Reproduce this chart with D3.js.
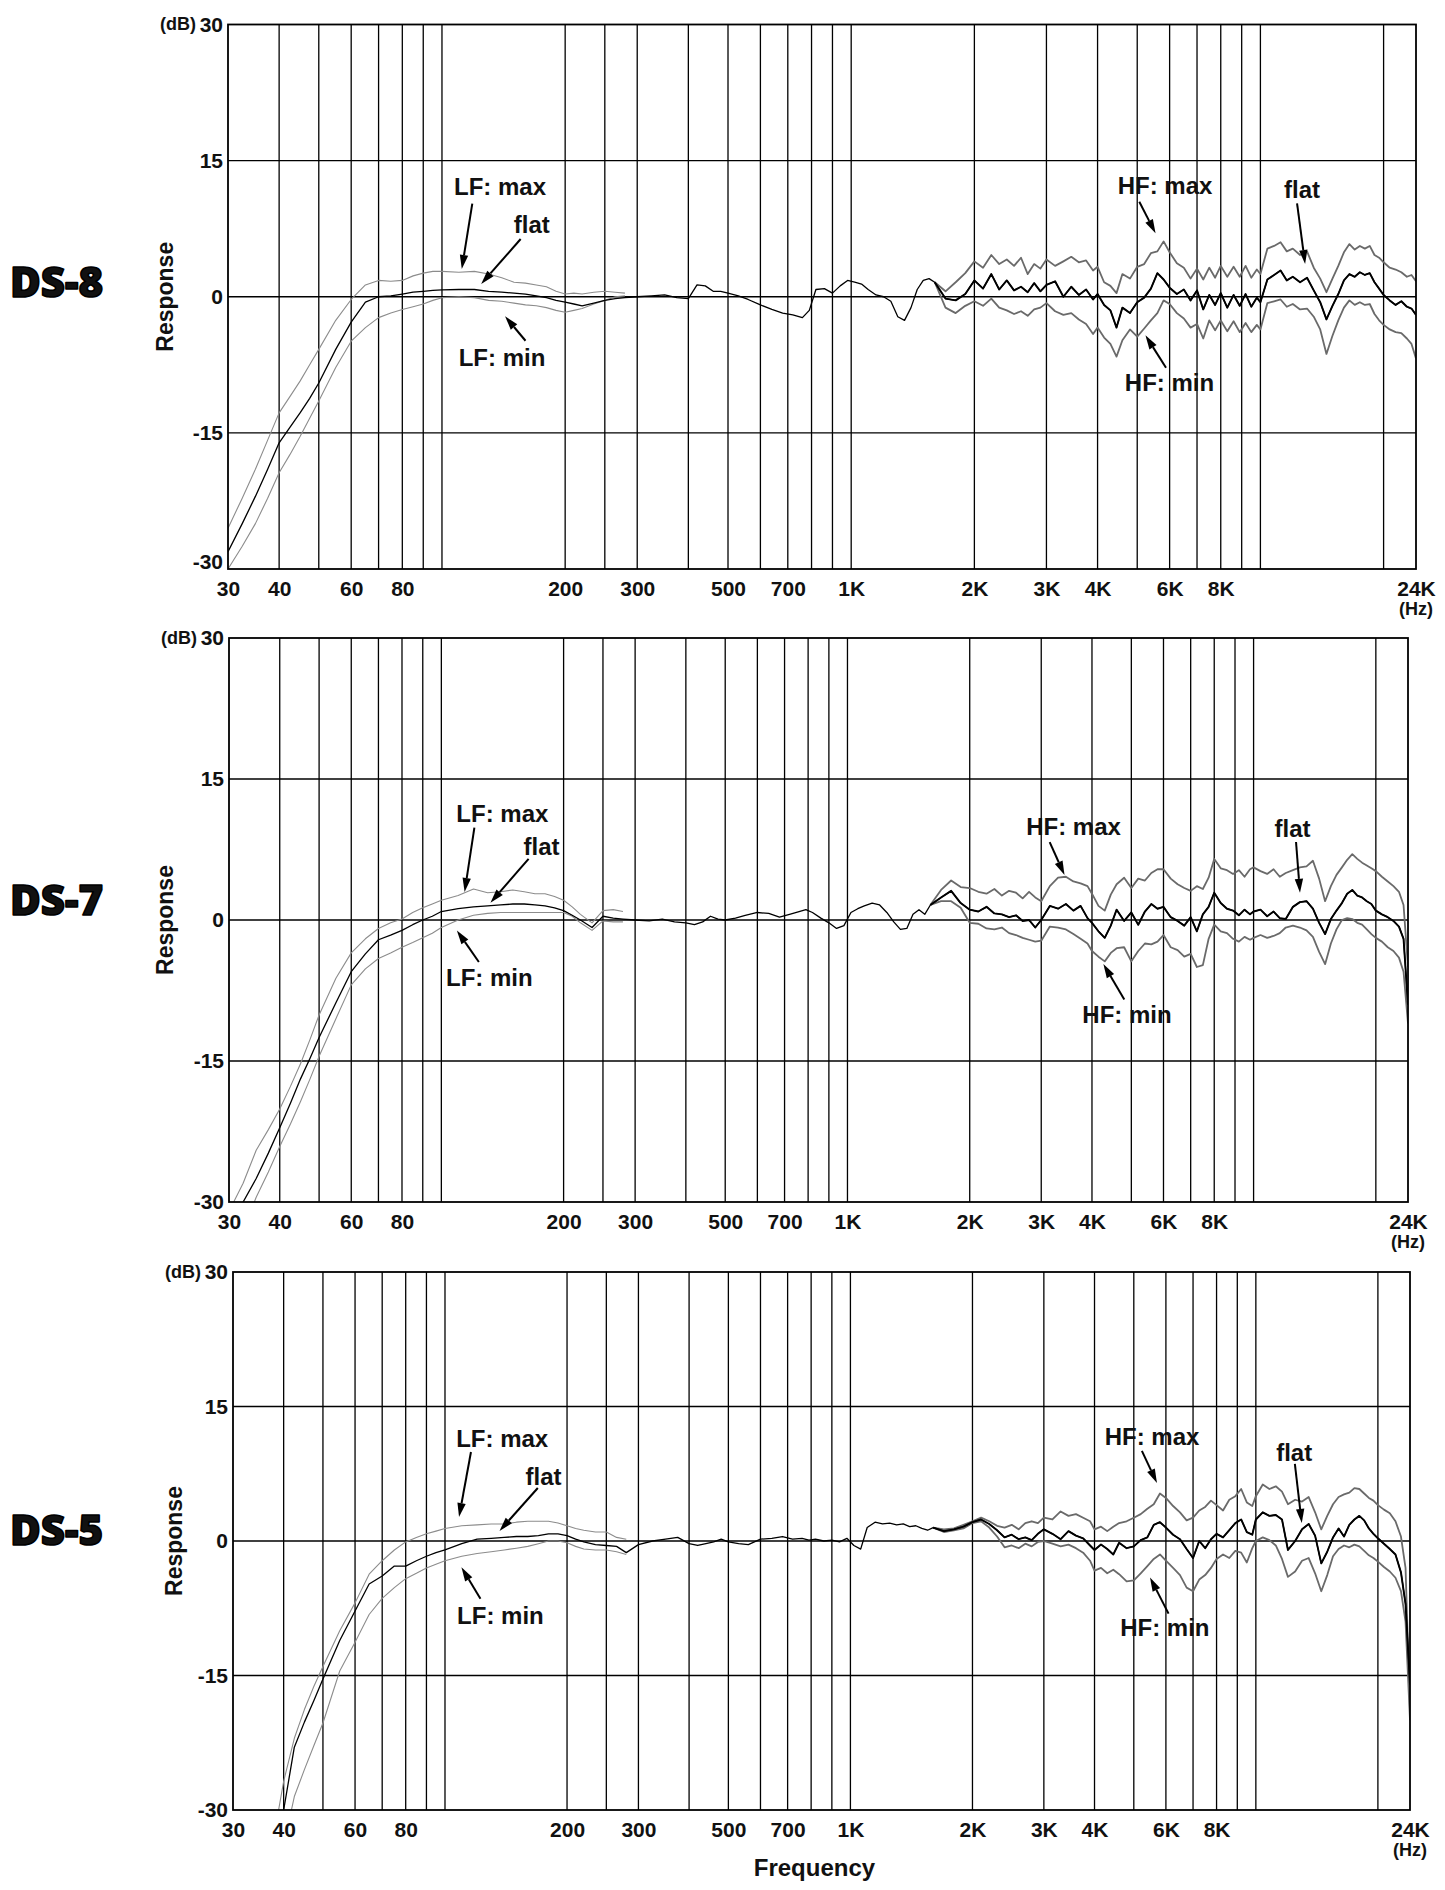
<!DOCTYPE html>
<html><head><meta charset="utf-8">
<script src="https://cdn.jsdelivr.net/npm/d3@7"></script>
<style>
body{margin:0;background:#fff}
svg text{font-family:"Liberation Sans",Arial,Helvetica,sans-serif;font-weight:bold;fill:#111}
</style>
</head><body><svg id="chart" width="1445" height="1890"></svg>
<script>
// ---------- shared axis data ----------
const models = ["DS-8", "DS-7", "DS-5"];
const yTicks = [30, 15, 0, -15, -30];
const yTickLabels = ["30", "15", "0", "-15", "-30"];
const gridFreqs = [40,50,60,70,80,90,100,200,250,300,400,500,600,700,800,900,1000,2000,3000,4000,5000,6000,7000,8000,9000,10000,20000];
const tickFreqs = [30,40,60,80,200,300,500,700,1000,2000,3000,4000,6000,8000,24000];
const tickLabels = ["30","40","60","80","200","300","500","700","1K","2K","3K","4K","6K","8K","24K"];

// ---------- frequency grids (Hz) ----------
const lfFreq = [30,32.5,35,37.5,40,42.5,45,47.5,50,55,60,65,70,75,80,85,90,95,100,110,120,130,140,150,160,170,180,190,200,210,220,235,250,265,280];
const midFreq = [300,325,350,375,400,420,440,460,480,500,530,560,600,640,680,720,760,790,820,860,900,940,980,1020,1060,1100,1150,1200,1250,1300,1350,1400,1450,1500,1550];
const hfFreq = [1600,1700,1800,1900,2000,2100,2200,2300,2400,2500,
  2600,2700,2800,2900,3000,3150,3300,3450,3600,3750,
  3900,4000,4150,4300,4450,4600,4800,5000,5200,5400,
  5600,5800,6000,6250,6500,6750,7000,7250,7500,7750,
  8000,8300,8600,8900,9200,9500,9800,10000,10400,10800,
  11200,11600,12000,12500,13000,13500,14000,14500,15000,15500,
  16000,16500,17000,17500,18000,18500,19000,19500,20000,20700,
  21400,22100,22800,23400,24000];

// ---------- DS-8 (dB) ----------
const ds8LfMax = [-25.5,-22.2,-19.0,-15.8,-12.8,-11.0,-9.3,-7.5,-5.8,-2.6,-0.3,1.3,1.8,1.7,1.8,2.3,2.6,2.8,2.8,2.7,2.8,2.5,2.1,1.6,1.5,1.3,1.1,0.6,0.3,0.4,0.3,0.5,0.6,0.5,0.4];
const ds8LfFlat = [-28.1,-25.0,-22.0,-19.0,-16.1,-14.4,-12.8,-11.2,-9.5,-5.8,-2.8,-0.6,0.0,0.1,0.3,0.5,0.6,0.7,0.75,0.8,0.8,0.6,0.5,0.4,0.3,0.1,-0.1,-0.4,-0.6,-0.8,-1.0,-0.7,-0.4,-0.2,-0.1];
const ds8LfMin = [-30,-27.5,-25.0,-22.2,-19.4,-17.4,-15.4,-13.4,-11.5,-7.8,-4.9,-3.4,-2.3,-1.8,-1.4,-1.1,-0.8,-0.4,-0.1,0.0,-0.1,-0.4,-0.5,-0.7,-0.9,-1.0,-1.2,-1.5,-1.7,-1.5,-1.3,-0.8,-0.4,0.0,0.1];
const ds8MidFlat = [0.0,0.1,0.2,-0.1,-0.2,1.3,1.2,0.6,0.6,0.4,0.1,-0.3,-0.9,-1.4,-1.8,-2.0,-2.3,-1.5,0.8,0.9,0.4,1.2,1.8,1.6,1.4,0.8,0.2,0.0,-0.5,-2.2,-2.6,-1.2,0.8,1.8,2.0];
const ds8HfFlat = [1.6,-0.2,-0.4,0.3,1.8,0.9,2.5,0.8,1.8,0.7,
  1.1,0.5,1.5,0.6,1.3,1.7,0.0,1.1,0.2,0.8,
  -0.3,0.3,-0.9,-1.5,-3.4,-1.2,-1.8,-0.6,-0.1,0.9,
  2.6,1.9,1.0,0.3,0.8,-0.4,0.7,-1.4,0.2,-0.9,
  0.4,-1.2,0.2,-1.0,0.3,-1.1,-0.1,-0.6,1.9,2.4,
  2.9,1.8,2.2,1.6,2.1,0.7,-0.6,-2.5,-1.0,0.3,
  1.8,2.5,2.2,2.7,2.4,2.6,1.6,0.9,0.2,-0.4,
  -0.9,-0.5,-1.1,-1.3,-2.0];
const ds8HfMax = [1.6,0.6,1.6,2.6,3.9,3.2,4.6,3.6,4.1,3.4,
  4.3,2.5,3.6,3.1,4.1,3.4,3.9,4.4,3.8,4.0,
  2.9,3.3,1.6,1.2,0.4,2.5,2.0,3.3,3.6,4.8,
  5.0,6.1,4.9,3.7,3.2,2.0,3.1,1.9,3.2,2.1,
  3.4,2.2,3.3,2.2,3.4,2.1,3.0,2.5,5.3,5.6,
  6.0,5.0,5.3,4.6,5.0,3.2,2.0,0.5,2.0,3.4,
  4.9,5.8,5.2,5.6,5.3,5.6,4.6,4.3,3.8,3.2,
  3.0,2.7,2.2,2.4,1.7];
const ds8HfMin = [1.6,-1.2,-1.8,-1.0,-0.5,-1.0,-0.2,-1.2,-1.5,-1.9,
  -1.6,-2.1,-1.4,-1.2,-0.7,-1.6,-2.0,-1.8,-2.5,-3.0,
  -4.1,-3.4,-4.5,-5.2,-6.6,-4.8,-3.6,-4.4,-3.5,-2.6,
  -1.8,-0.4,-0.8,-1.8,-2.4,-3.4,-3.0,-4.6,-2.6,-3.7,
  -2.6,-3.8,-2.7,-3.9,-2.9,-3.9,-3.1,-3.6,-0.7,-0.5,
  -0.3,-1.1,-0.8,-1.4,-1.3,-2.2,-3.6,-6.3,-4.3,-2.6,
  -1.2,-0.4,-0.9,-0.6,-0.9,-0.8,-1.9,-2.6,-3.1,-3.6,
  -3.9,-4.0,-4.6,-5.2,-6.8];

// ---------- DS-7 (dB) ----------
const ds7LfMax = [-31,-28.0,-24.5,-22.3,-20.1,-17.7,-15.3,-12.7,-10.1,-6.2,-3.5,-2.0,-0.9,-0.3,0.1,0.8,1.3,1.7,2.1,2.6,3.3,2.9,3.0,3.2,3.0,2.8,2.8,2.5,2.1,1.4,0.6,-0.3,1.0,1.1,0.9];
const ds7LfFlat = [-34,-30,-27.5,-24.8,-22.1,-19.5,-16.9,-14.7,-12.5,-8.8,-5.5,-3.6,-2.1,-1.6,-1.1,-0.5,0.0,0.4,0.9,1.2,1.4,1.5,1.6,1.7,1.7,1.6,1.5,1.3,1.0,0.5,0.0,-0.8,0.4,0.2,0.1];
const ds7LfMin = [-37,-33,-29.5,-26.8,-24.1,-21.7,-19.3,-16.9,-14.5,-10.5,-6.9,-5.2,-4.1,-3.5,-2.9,-2.4,-1.9,-1.4,-0.8,0.0,0.5,0.7,0.8,0.8,0.8,0.8,0.8,0.8,0.8,0.4,-0.3,-1.1,-0.1,-0.2,-0.2];
const ds7MidFlat = [0.0,-0.1,0.1,-0.2,-0.3,-0.5,-0.2,0.4,0.1,0.0,0.2,0.5,0.8,0.7,0.3,0.6,0.9,1.1,0.8,0.2,-0.3,-0.9,-0.6,0.8,1.2,1.5,1.8,1.6,0.8,-0.2,-1.0,-0.9,0.6,1.1,0.6];
const ds7HfFlat = [1.6,2.4,3.1,1.8,1.1,0.9,1.4,0.7,0.6,0.3,
  0.5,-0.1,0.0,-0.8,0.0,1.5,1.2,1.7,1.0,1.5,
  0.2,-0.3,-1.2,-1.9,-0.6,1.1,-0.1,0.8,-0.5,0.9,
  1.7,1.2,1.4,0.3,-0.1,-0.6,0.3,-1.2,0.6,1.4,
  2.9,1.8,1.2,1.0,0.5,1.1,0.6,0.9,1.1,0.4,
  0.9,0.2,0.1,1.4,1.9,2.0,1.2,-0.3,-1.5,0.1,
  1.0,1.8,2.8,3.2,2.6,2.4,2.0,1.7,1.0,0.6,
  0.3,-0.1,-0.7,-2.0,-9.0];
const ds7HfMax = [1.6,3.2,4.2,3.5,3.4,3.0,2.8,3.3,2.6,3.1,
  2.9,2.3,3.0,2.4,2.0,3.6,4.5,4.6,4.1,3.9,
  3.6,2.8,1.5,1.0,2.7,3.8,4.5,3.4,4.4,4.2,
  5.0,5.4,5.4,4.4,3.8,3.4,3.1,3.6,3.3,4.5,
  6.5,5.5,5.3,4.9,5.3,4.6,5.4,5.6,5.2,4.9,
  5.4,4.6,5.0,5.3,5.6,5.7,6.3,4.4,2.0,3.6,
  4.8,5.6,6.4,7.0,6.5,6.1,5.8,5.5,5.2,4.6,
  4.1,3.6,3.0,1.6,-5.0];
const ds7HfMin = [1.6,2.0,2.0,1.3,-0.3,-0.4,-0.9,-1.0,-0.8,-1.4,
  -1.6,-1.9,-2.1,-2.3,-2.2,-0.7,-0.8,-1.0,-1.5,-2.0,
  -2.5,-3.3,-3.9,-4.4,-3.5,-3.0,-2.9,-4.4,-3.3,-2.5,
  -2.6,-2.3,-1.6,-2.9,-3.2,-3.9,-3.6,-5.0,-4.8,-2.0,
  -0.5,-1.2,-1.4,-2.0,-2.3,-1.8,-2.1,-1.9,-1.6,-1.9,
  -1.7,-1.4,-0.8,-0.6,-0.8,-1.1,-1.8,-3.4,-4.7,-2.5,
  -1.0,0.0,0.2,0.1,-0.3,-0.5,-1.0,-1.5,-1.9,-2.3,
  -2.9,-3.3,-4.0,-5.5,-11.0];

// ---------- DS-5 (dB) ----------
const ds5LfMax = [-52,-46,-40,-34,-26.8,-22.0,-18.8,-16.2,-14.0,-10.0,-6.9,-3.7,-2.2,-1.0,-0.1,0.4,0.8,1.1,1.4,1.7,1.8,1.9,1.9,2.1,2.2,2.2,2.2,2.0,1.7,1.4,1.2,1.0,1.0,0.4,0.2];
const ds5LfFlat = [-56,-50,-44,-37,-30,-23,-20.2,-17.8,-15.4,-11.1,-7.8,-4.8,-3.9,-2.8,-2.8,-2.2,-1.7,-1.3,-1.0,-0.3,0.2,0.3,0.4,0.5,0.5,0.6,0.8,0.8,0.6,0.2,-0.1,-0.4,-0.5,-0.6,-1.3];
const ds5LfMin = [-60,-54,-48,-41,-34,-28.5,-25.5,-22.8,-20.3,-14.5,-11.3,-8.2,-6.4,-5.2,-4.2,-3.6,-3.0,-2.6,-2.2,-1.7,-1.4,-1.2,-1.0,-0.8,-0.6,-0.3,0.0,0.0,-0.2,-0.6,-0.9,-1.0,-1.0,-1.2,-1.5];
const ds5MidFlat = [-0.4,0.0,0.2,0.4,-0.3,-0.5,-0.3,-0.1,0.2,-0.1,-0.3,-0.4,0.2,0.3,0.5,0.2,0.3,0.1,0.2,0.0,0.1,-0.1,0.3,-0.5,-0.9,1.5,2.1,1.9,2.0,1.8,1.9,1.6,1.7,1.4,1.2];
const ds5HfFlat = [1.5,1.1,1.3,1.6,2.1,2.4,1.9,1.2,0.4,0.7,
  0.2,0.4,0.1,0.8,1.3,0.8,0.2,1.1,0.6,0.3,
  -0.5,-1.0,-0.4,-0.9,-1.5,-0.2,-0.8,-0.6,0.1,0.4,
  1.8,2.1,1.5,0.7,0.2,-0.9,-1.9,0.0,-0.8,0.2,
  0.8,0.4,1.2,2.0,2.4,1.0,0.7,2.4,3.2,2.8,
  2.9,2.4,-1.0,0.0,1.3,1.9,0.6,-2.5,-1.2,0.4,
  1.4,0.5,1.8,2.4,2.8,2.3,1.4,0.8,0.3,-0.3,
  -0.9,-1.5,-3.5,-7.0,-16];
const ds5HfMax = [1.5,1.3,1.4,1.8,2.2,2.6,2.2,1.7,1.5,1.8,
  1.3,2.0,2.2,2.0,2.6,2.4,3.3,2.8,3.0,2.6,
  2.2,1.3,1.6,1.1,1.6,2.0,2.2,2.6,3.0,3.6,
  4.1,5.3,4.8,3.9,3.2,2.3,2.6,3.4,3.8,4.5,
  4.0,3.4,4.6,5.0,5.8,4.3,3.9,5.0,6.3,5.8,
  6.1,5.5,4.1,4.6,4.4,4.9,3.2,1.3,2.8,4.1,
  4.9,5.2,5.4,5.9,5.8,5.3,4.8,4.5,4.0,3.5,
  3.1,2.2,0.5,-3.0,-19];
const ds5HfMin = [1.5,1.0,1.2,1.4,2.0,2.2,1.5,0.5,-0.7,-0.5,
  -0.8,-0.3,-0.6,-0.1,0.0,-0.3,-0.6,-0.4,-0.8,-1.3,
  -2.2,-3.3,-3.0,-3.6,-3.2,-3.7,-4.5,-4.4,-3.6,-2.8,
  -2.0,-1.5,-2.2,-3.0,-3.8,-5.2,-5.6,-4.3,-3.8,-3.0,
  -2.0,-1.5,-1.9,-1.1,-1.3,-2.4,-0.8,0.0,0.4,0.1,
  -0.5,-2.0,-4.0,-3.4,-2.2,-1.9,-3.6,-5.6,-3.8,-1.7,
  -0.9,-0.5,-0.7,-0.4,-0.6,-1.1,-1.6,-1.9,-2.3,-2.9,
  -3.4,-4.1,-5.6,-9.0,-20];

// ---------- annotations (text / arrow tail / arrow head in Hz, dB) ----------
const ds8Notes = [
  {t:"LF: max", f:138.6, db:11.21, f1:118.6, d1:10.26, f2:111.8, d2:3.07},
  {t:"flat",    f:165.7, db:6.99,  f1:155.7, d1:6.36,  f2:124.7, d2:1.41},
  {t:"LF: min", f:140.2, db:-7.6,  f1:160,   d1:-4.85, f2:142.6, d2:-2.15},
  {t:"HF: max", f:5847,  db:11.36, f1:5059,  d1:10.47, f2:5543,  d2:6.99},
  {t:"flat",    f:12640, db:10.92, f1:12290, d1:10.3,  f2:12860, d2:3.61},
  {t:"HF: min", f:5997,  db:-10.43,f1:5880,  d1:-7.82, f2:5237,  d2:-4.25}];
const ds7Notes = [
  {t:"LF: max", f:141.3, db:10.46, f1:120.6, d1:9.83,  f2:114.1, d2:2.98},
  {t:"flat",    f:176.5, db:6.92,  f1:164,   d1:6.5,   f2:132.1, d2:1.84},
  {t:"LF: min", f:131.3, db:-6.99, f1:123.7, d1:-4.47, f2:109.2, d2:-1.11},
  {t:"HF: max", f:3603,  db:8.99,  f1:3147,  d1:8.28,  f2:3423,  d2:4.79},
  {t:"flat",    f:12470, db:8.78,  f1:12720, d1:8.3,   f2:13010, d2:2.89},
  {t:"HF: min", f:4878,  db:-10.99,f1:4804,  d1:-8.47, f2:4267,  d2:-4.68}];
const ds5Notes = [
  {t:"LF: max", f:138.4, db:10.51, f1:115.9, d1:9.93,  f2:108.3, d2:2.68},
  {t:"flat",    f:175,   db:6.25,  f1:169.4, d1:5.91,  f2:136.3, d2:1.12},
  {t:"LF: min", f:137,   db:-9.21, f1:122.3, d1:-6.43, f2:109.8, d2:-2.94},
  {t:"HF: max", f:5544,  db:10.73, f1:5235,  d1:10.05, f2:5703,  d2:6.47},
  {t:"flat",    f:12430, db:8.93,  f1:12480, d1:8.59,  f2:12980, d2:2.01},
  {t:"HF: min", f:5965,  db:-10.56,f1:6091,  d1:-8.1,  f2:5482,  d2:-4.06}];

// ---------- layout ----------
const panels = [
  {name:models[0], left:228, right:1416, top:24.5, bottom:569, nameDy:0, respX:173, low30Raise:true,
   lfMax:ds8LfMax, lfFlat:ds8LfFlat, lfMin:ds8LfMin, midFlat:ds8MidFlat, hfFlat:ds8HfFlat, hfMax:ds8HfMax, hfMin:ds8HfMin, notes:ds8Notes},
  {name:models[1], left:229, right:1408, top:638, bottom:1202, nameDy:-5, respX:173, low30Raise:false,
   lfMax:ds7LfMax, lfFlat:ds7LfFlat, lfMin:ds7LfMin, midFlat:ds7MidFlat, hfFlat:ds7HfFlat, hfMax:ds7HfMax, hfMin:ds7HfMin, notes:ds7Notes},
  {name:models[2], left:233, right:1410, top:1272, bottom:1810, nameDy:4, respX:182, low30Raise:false,
   lfMax:ds5LfMax, lfFlat:ds5LfFlat, lfMin:ds5LfMin, midFlat:ds5MidFlat, hfFlat:ds5HfFlat, hfMax:ds5HfMax, hfMin:ds5HfMin, notes:ds5Notes}
];

const svg = d3.select("#chart");
const defs = svg.append("defs");
const pairs = (fr, vals) => fr.map((f, i) => [f, vals[i]]);

panels.forEach((p, i) => {
  const x = d3.scaleLog().domain([30, 24000]).range([p.left, p.right]);
  const y = d3.scaleLinear().domain([-30, 30]).range([p.bottom, p.top]);
  const g = svg.append("g");

  defs.append("clipPath").attr("id", "clip" + i).append("rect")
    .attr("x", p.left).attr("y", p.top).attr("width", p.right - p.left).attr("height", p.bottom - p.top);

  // vertical grid
  g.append("g").selectAll("line").data(gridFreqs).join("line")
    .attr("x1", d => x(d)).attr("x2", d => x(d)).attr("y1", p.top).attr("y2", p.bottom)
    .attr("stroke", "#000").attr("stroke-width", 1.3);
  // horizontal grid
  g.append("g").selectAll("line").data([15, 0, -15]).join("line")
    .attr("x1", p.left).attr("x2", p.right).attr("y1", d => y(d)).attr("y2", d => y(d))
    .attr("stroke", "#000").attr("stroke-width", 1.4);

  // curves
  const line = d3.line().x(d => x(d[0])).y(d => y(d[1]));
  const cg = g.append("g").attr("clip-path", `url(#clip${i})`).attr("fill", "none").attr("stroke-linejoin", "round");
  cg.append("path").attr("d", line(pairs(lfFreq, p.lfMax))).attr("stroke", "#8c8c8c").attr("stroke-width", 1.1);
  cg.append("path").attr("d", line(pairs(lfFreq, p.lfMin))).attr("stroke", "#8c8c8c").attr("stroke-width", 1.1);
  cg.append("path").attr("d", line(pairs(hfFreq, p.hfMax))).attr("stroke", "#6a6a6a").attr("stroke-width", 1.8);
  cg.append("path").attr("d", line(pairs(hfFreq, p.hfMin))).attr("stroke", "#6a6a6a").attr("stroke-width", 1.8);
  cg.append("path").attr("d", line(pairs(lfFreq.concat(midFreq, hfFreq), p.lfFlat.concat(p.midFlat, p.hfFlat))))
    .attr("stroke", "#000").attr("stroke-width", 1.3);
  cg.append("path").attr("d", line(pairs(hfFreq, p.hfFlat)))
    .attr("stroke", "#000").attr("stroke-width", 1.9);

  // frame
  g.append("rect").attr("x", p.left).attr("y", p.top).attr("width", p.right - p.left).attr("height", p.bottom - p.top)
    .attr("fill", "none").attr("stroke", "#000").attr("stroke-width", 1.8);

  // y axis labels
  const ya = g.append("g").attr("transform", `translate(${p.left},0)`)
    .call(d3.axisLeft(y).tickValues(yTicks).tickSize(0).tickPadding(5).tickFormat((d, k) => yTickLabels[k]));
  ya.select(".domain").remove();
  ya.selectAll("text").attr("font-size", 21).attr("font-family", null).attr("fill", "#111");
  if (p.low30Raise) ya.selectAll("text").filter(d => d === -30).attr("dy", "-0.02em");
  g.append("text").attr("x", p.left - 32).attr("y", y(30)).attr("dy", "0.32em")
    .attr("text-anchor", "end").attr("font-size", 18).text("(dB)");

  // x axis labels
  const xa = g.append("g").attr("transform", `translate(0,${p.bottom})`)
    .call(d3.axisBottom(x).tickValues(tickFreqs).tickSize(0).tickPadding(12).tickFormat((d, k) => tickLabels[k]));
  xa.select(".domain").remove();
  xa.selectAll("text").attr("font-size", 21).attr("font-family", null).attr("fill", "#111");
  g.append("text").attr("x", x(24000)).attr("y", p.bottom + 46).attr("text-anchor", "middle")
    .attr("font-size", 18).text("(Hz)");

  // Response
  g.append("text").attr("transform", `translate(${p.respX},${y(0)}) rotate(-90)`)
    .attr("text-anchor", "middle").attr("font-size", 23).text("Response");

  // model name
  g.append("text").attr("x", 10).attr("y", y(0) + p.nameDy)
    .style("font-family", "'Open Sans', Lato, 'Noto Sans', sans-serif").style("font-weight", 800)
    .attr("font-size", 42).attr("fill", "#000").attr("stroke", "#000").attr("stroke-width", 1.6)
    .attr("stroke-linejoin", "round").text(p.name);

  // annotations
  const ag = g.append("g");
  p.notes.forEach(n => {
    ag.append("text").attr("x", x(n.f)).attr("y", y(n.db)).attr("text-anchor", "middle")
      .attr("font-size", 24).text(n.t);
    const x1 = x(n.f1), y1 = y(n.d1), x2 = x(n.f2), y2 = y(n.d2);
    const ang = Math.atan2(y2 - y1, x2 - x1), L = 14, W = 4.2;
    const bx = x2 - L * Math.cos(ang), by = y2 - L * Math.sin(ang);
    ag.append("line").attr("x1", x1).attr("y1", y1).attr("x2", bx).attr("y2", by)
      .attr("stroke", "#000").attr("stroke-width", 2);
    const px = -Math.sin(ang) * W, py = Math.cos(ang) * W;
    ag.append("path").attr("d", `M${x2},${y2}L${bx + px},${by + py}L${bx - px},${by - py}Z`).attr("fill", "#000");
  });

  if (i === panels.length - 1) {
    svg.append("text").attr("x", x(1000) - 36).attr("y", 1876).attr("text-anchor", "middle")
      .attr("font-size", 24).text("Frequency");
  }
});
</script>
</body></html>
